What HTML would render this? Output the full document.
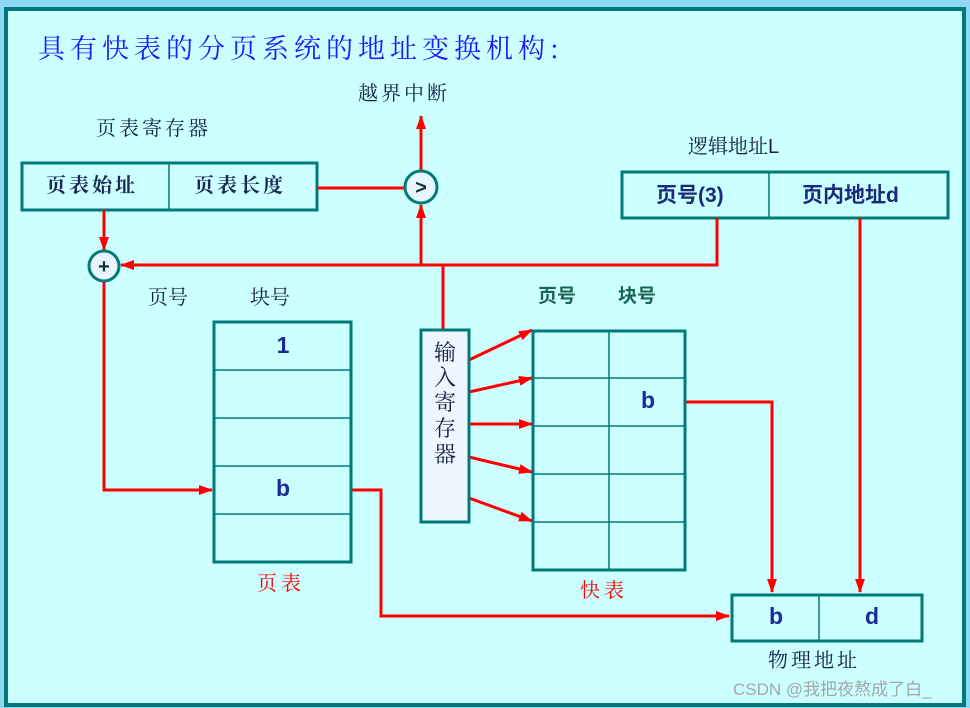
<!DOCTYPE html>
<html><head><meta charset="utf-8"><style>
html,body{margin:0;padding:0;width:970px;height:708px;overflow:hidden;background:#6cc6ee}
svg{display:block}
.cj{font-family:"Noto Serif CJK SC","Liberation Serif",serif}
.b{font-family:"Liberation Sans","Noto Sans CJK SC",sans-serif;font-weight:bold}
</style></head><body>
<svg width="970" height="708" viewBox="0 0 970 708" xmlns="http://www.w3.org/2000/svg">
<defs>
<marker id="a" markerWidth="14" markerHeight="10" refX="13" refY="5" orient="auto" markerUnits="userSpaceOnUse"><path d="M0,0 L14,5 L0,10 Z" fill="#ff0000"/></marker>
</defs>
<rect x="0" y="0" width="970" height="708" fill="#8fd8f5"/>
<rect x="6" y="9" width="958" height="696" fill="#ccffff" stroke="#007a78" stroke-width="4"/>
<text x="38" y="58" class="cj" font-size="27" fill="#1a1aff" letter-spacing="5">具有快表的分页系统的地址变换机构:</text>
<text x="358" y="100" class="cj" font-size="20" fill="#112244" letter-spacing="3">越界中断</text>
<text x="96" y="135" class="cj" font-size="20" fill="#112244" letter-spacing="3">页表寄存器</text>
<text x="688" y="153" class="cj" font-size="20" fill="#112244">逻辑地址<tspan font-family="Liberation Sans">L</tspan></text>

<rect x="22" y="163" width="295" height="47" fill="#ccffff" stroke="#007a78" stroke-width="3"/>
<line x1="169" y1="163" x2="169" y2="210" stroke="#007a78" stroke-width="1.5"/>
<text x="46" y="192" class="cj" font-size="20" font-weight="bold" fill="#1a2a55" letter-spacing="3">页表始址</text>
<text x="194" y="192" class="cj" font-size="20" font-weight="bold" fill="#1a2a55" letter-spacing="3">页表长度</text>

<rect x="622" y="172" width="326" height="46" fill="#ccffff" stroke="#007a78" stroke-width="3"/>
<line x1="769" y1="172" x2="769" y2="218" stroke="#007a78" stroke-width="1.5"/>
<text x="656" y="202" class="b" font-size="21" fill="#1a2a77">页号(3)</text>
<text x="802" y="202" class="b" font-size="21" fill="#1a2a77">页内地址d</text>

<g stroke="#ff0000" stroke-width="3" fill="none">
<line x1="317" y1="188" x2="405" y2="188"/>
<line x1="421" y1="171" x2="421" y2="116" marker-end="url(#a)"/>
<polyline points="717,218 717,265 121,265" marker-end="url(#a)"/>
<line x1="421" y1="265" x2="421" y2="205" marker-end="url(#a)"/>
<line x1="104" y1="210" x2="104" y2="250" marker-end="url(#a)"/>
<polyline points="104,282 104,490 212,490" marker-end="url(#a)"/>
<line x1="443" y1="265" x2="443" y2="330"/>
<line x1="469" y1="360" x2="532" y2="330" marker-end="url(#a)"/>
<line x1="469" y1="392" x2="532" y2="378" marker-end="url(#a)"/>
<line x1="469" y1="424" x2="532" y2="424" marker-end="url(#a)"/>
<line x1="469" y1="457" x2="532" y2="472" marker-end="url(#a)"/>
<line x1="469" y1="498" x2="532" y2="521" marker-end="url(#a)"/>
<polyline points="685,402 772,402 772,592" marker-end="url(#a)"/>
<line x1="860" y1="218" x2="860" y2="592" marker-end="url(#a)"/>
<polyline points="351,490 381,490 381,616 729,616" marker-end="url(#a)"/>
</g>

<circle cx="421" cy="187" r="16" fill="#e8f4ff" stroke="#007a78" stroke-width="3"/>
<text x="421" y="194" class="b" font-size="20" fill="#113333" text-anchor="middle">&gt;</text>
<circle cx="104" cy="266" r="15" fill="#e8f4ff" stroke="#007a78" stroke-width="3"/>
<text x="104" y="273" class="b" font-size="20" fill="#113333" text-anchor="middle">+</text>

<text x="148" y="304" class="cj" font-size="20" fill="#112244">页号</text>
<text x="250" y="304" class="cj" font-size="20" fill="#112244">块号</text>
<rect x="214" y="322" width="137" height="240" fill="#ccffff" stroke="#007a78" stroke-width="3"/>
<g stroke="#007a78" stroke-width="1.5">
<line x1="214" y1="370" x2="351" y2="370"/><line x1="214" y1="418" x2="351" y2="418"/>
<line x1="214" y1="466" x2="351" y2="466"/><line x1="214" y1="514" x2="351" y2="514"/>
</g>
<text x="283" y="353" class="b" font-size="23" fill="#1a2a99" text-anchor="middle">1</text>
<text x="283" y="496" class="b" font-size="23" fill="#1a2a99" text-anchor="middle">b</text>
<text x="257" y="590" class="cj" font-size="20" fill="#ff0000" letter-spacing="4">页表</text>

<rect x="421" y="330" width="48" height="192" fill="#eef6ff" stroke="#007a78" stroke-width="3"/>
<g class="cj" font-size="22" fill="#112244" text-anchor="middle">
<text x="445" y="360">输</text><text x="445" y="385">入</text><text x="445" y="410">寄</text><text x="445" y="436">存</text><text x="445" y="462">器</text>
</g>

<text x="538" y="302" class="b" font-size="19" fill="#1a6655">页号</text>
<text x="618" y="302" class="b" font-size="19" fill="#1a6655">块号</text>
<rect x="533" y="331" width="152" height="239" fill="#ccffff" stroke="#007a78" stroke-width="3"/>
<g stroke="#007a78" stroke-width="1.5">
<line x1="609" y1="331" x2="609" y2="570"/>
<line x1="533" y1="378" x2="685" y2="378"/><line x1="533" y1="426" x2="685" y2="426"/>
<line x1="533" y1="474" x2="685" y2="474"/><line x1="533" y1="522" x2="685" y2="522"/>
</g>
<text x="648" y="408" class="b" font-size="23" fill="#1a2a99" text-anchor="middle">b</text>
<text x="580" y="597" class="cj" font-size="20" fill="#ff0000" letter-spacing="4">快表</text>

<rect x="732" y="595" width="190" height="46" fill="#ccffff" stroke="#007a78" stroke-width="3"/>
<line x1="819" y1="595" x2="819" y2="641" stroke="#007a78" stroke-width="1.5"/>
<text x="776" y="624" class="b" font-size="23" fill="#1a2a99" text-anchor="middle">b</text>
<text x="872" y="624" class="b" font-size="23" fill="#1a2a99" text-anchor="middle">d</text>
<text x="768" y="667" class="cj" font-size="20" fill="#112244" letter-spacing="3">物理地址</text>
<text x="733" y="695" font-family="Liberation Sans,'Noto Sans CJK SC',sans-serif" font-size="17" fill="#a0a8a8">CSDN @我把夜熬成了白_</text>
</svg>
</body></html>
